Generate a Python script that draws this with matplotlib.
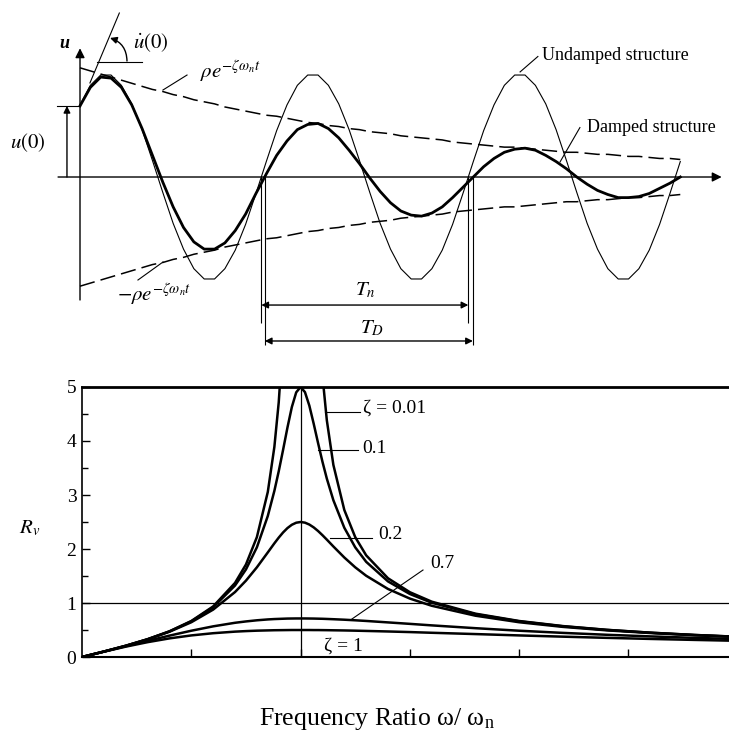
import matplotlib.pyplot as plt
import numpy as np
from matplotlib.ticker import MultipleLocator

plt.rcParams['font.family'] = 'Liberation Serif'
plt.rcParams['mathtext.fontset'] = 'stix'

# Free vibration: time in natural periods, displacement scaled to undamped amplitude
t = np.linspace(0, 2.9, 59)
u_undamped = [0.70, 0.89, 0.99, 0.99, 0.89, 0.71, 0.46, 0.16, -0.15, -0.45,
              -0.70, -0.89, -0.99, -0.99, -0.89, -0.71, -0.46, -0.16, 0.15, 0.45,
              0.70, 0.89, 0.99, 0.99, 0.89, 0.71, 0.46, 0.16, -0.15, -0.45,
              -0.70, -0.89, -0.99, -0.99, -0.89, -0.71, -0.46, -0.16, 0.15, 0.45,
              0.70, 0.89, 0.99, 0.99, 0.89, 0.71, 0.46, 0.16, -0.15, -0.45,
              -0.70, -0.89, -0.99, -0.99, -0.89, -0.71, -0.46, -0.16, 0.15]
u_damped = [0.69, 0.87, 0.97, 0.96, 0.87, 0.70, 0.47, 0.21, -0.05, -0.29,
            -0.49, -0.63, -0.70, -0.70, -0.64, -0.52, -0.36, -0.16, 0.03, 0.21,
            0.35, 0.46, 0.51, 0.52, 0.47, 0.38, 0.26, 0.13, -0.01, -0.14,
            -0.25, -0.33, -0.37, -0.38, -0.35, -0.29, -0.20, -0.10, 0.00, 0.10,
            0.18, 0.24, 0.27, 0.28, 0.26, 0.21, 0.15, 0.08, 0.00, -0.07,
            -0.13, -0.17, -0.20, -0.20, -0.19, -0.16, -0.11, -0.06, 0.00]
envelope = [1.06, 1.03, 1.00, 0.97, 0.94, 0.91, 0.88, 0.85, 0.83, 0.80,
            0.78, 0.75, 0.73, 0.71, 0.68, 0.66, 0.64, 0.62, 0.60, 0.59,
            0.57, 0.55, 0.53, 0.52, 0.50, 0.49, 0.47, 0.46, 0.44, 0.43,
            0.42, 0.40, 0.39, 0.38, 0.37, 0.36, 0.34, 0.33, 0.32, 0.31,
            0.30, 0.29, 0.29, 0.28, 0.27, 0.26, 0.25, 0.24, 0.24, 0.23,
            0.22, 0.22, 0.21, 0.20, 0.20, 0.19, 0.18, 0.18, 0.17]
u0 = 0.69
Tn_start, Tn_end = 0.876, 1.876
TD_start, TD_end = 0.893, 1.898

# Dynamic response factor R_v against frequency ratio
ratio = [0, 0.1, 0.2, 0.3, 0.4, 0.5, 0.6, 0.7, 0.75, 0.8, 0.85, 0.88, 0.9, 0.92,
         0.94, 0.96, 0.98, 1.0, 1.02, 1.04, 1.06, 1.08, 1.1, 1.12, 1.15, 1.2,
         1.25, 1.3, 1.4, 1.5, 1.6, 1.8, 2.0, 2.2, 2.4, 2.6, 2.8, 3.0]
rv_001 = [0, 0.101, 0.208, 0.330, 0.476, 0.667, 0.937, 1.372, 1.713, 2.220, 3.057,
          3.889, 4.716, 5.947, 7.972, 11.89, 22.18, 50.0, 22.54, 12.35, 8.453, 6.436,
          5.210, 4.385, 3.557, 2.723, 2.220, 1.883, 1.458, 1.200, 1.025, 0.803,
          0.667, 0.573, 0.504, 0.451, 0.409, 0.375]
rv_01 = [0, 0.101, 0.208, 0.329, 0.474, 0.661, 0.921, 1.324, 1.622, 2.031, 2.612,
         3.076, 3.439, 3.838, 4.251, 4.629, 4.901, 5.0, 4.905, 4.655, 4.319, 3.961,
         3.617, 3.304, 2.903, 2.394, 2.031, 1.763, 1.400, 1.167, 1.005, 0.793,
         0.661, 0.569, 0.502, 0.450, 0.408, 0.374]
rv_02 = [0, 0.101, 0.208, 0.327, 0.468, 0.644, 0.878, 1.203, 1.414, 1.661, 1.937,
         2.105, 2.211, 2.307, 2.388, 2.449, 2.487, 2.5, 2.488, 2.453, 2.400, 2.333,
         2.256, 2.174, 2.047, 1.843, 1.661, 1.505, 1.260, 1.082, 0.949, 0.765,
         0.644, 0.558, 0.494, 0.444, 0.404, 0.371]
rv_07 = [0, 0.100, 0.200, 0.299, 0.396, 0.487, 0.568, 0.634, 0.659, 0.680, 0.696,
         0.703, 0.706, 0.709, 0.712, 0.713, 0.714, 0.714, 0.714, 0.713, 0.712, 0.710,
         0.708, 0.705, 0.700, 0.691, 0.680, 0.668, 0.641, 0.614, 0.586, 0.534,
         0.487, 0.447, 0.412, 0.382, 0.355, 0.332]
rv_1 = [0, 0.099, 0.192, 0.275, 0.345, 0.400, 0.441, 0.470, 0.480, 0.488, 0.493,
        0.496, 0.497, 0.498, 0.499, 0.500, 0.500, 0.5, 0.500, 0.500, 0.499, 0.499,
        0.498, 0.497, 0.495, 0.492, 0.488, 0.483, 0.473, 0.462, 0.449, 0.425,
        0.400, 0.377, 0.355, 0.335, 0.317, 0.300]

fig = plt.figure(figsize=(7.29, 7.31), dpi=100)

# ---- top: free vibration sketch ----
ax1 = fig.add_axes([0, 0.5075, 1, 0.4925])
ax1.set_xlim(-0.3865, 3.1353)
ax1.set_ylim(-1.7767, 1.7184)
ax1.axis('off')

thin = dict(color='k', lw=0.8)
head = dict(color='k', lw=1.0, shrinkA=0, shrinkB=0)

ax1.annotate('', xy=(3.10, 0), xytext=(-0.106, 0),
             arrowprops=dict(arrowstyle='-|>', mutation_scale=14, **head))
ax1.annotate('', xy=(0, 1.25), xytext=(0, -1.194),
             arrowprops=dict(arrowstyle='-|>', mutation_scale=14, **head))

ax1.plot(t, u_undamped, color='k', lw=0.8)
ax1.plot(t, u_damped, color='k', lw=2.0)
ax1.plot(t, envelope, color='k', lw=1.1, linestyle=(0, (10, 4)))
ax1.plot(t, [-e for e in envelope], color='k', lw=1.1, linestyle=(0, (10, 4)))

# u(0) dimension
ax1.annotate('', xy=(-0.063, u0), xytext=(-0.063, 0),
             arrowprops=dict(arrowstyle='-|>', mutation_scale=10, **head))
ax1.plot([-0.111, 0], [u0, u0], **thin)
ax1.text(-0.251, 0.33, '$u(0)$', fontsize=15, ha='center', va='center')
ax1.text(-0.075, 1.30, 'u', fontsize=13, fontstyle='italic', fontweight='bold',
         ha='center', va='center')

# initial velocity (slope)
ax1.plot([0.048, 0.19], [0.913, 1.592], **thin)
ax1.plot([0.082, 0.300], [1.117, 1.117], **thin)
ax1.annotate('', xy=(0.145, 1.35), xytext=(0.227, 1.126),
             arrowprops=dict(arrowstyle='-|>', mutation_scale=10,
                             connectionstyle='arc3,rad=0.35', **head))
ax1.text(0.256, 1.30, r'$\dot{u}(0)$', fontsize=15, ha='left', va='center')

# envelope labels
ax1.text(0.58, 1.02, r'$\rho e^{-\zeta\omega_n t}$', fontsize=15, ha='left', va='center')
ax1.plot([0.401, 0.517], [0.845, 0.99], **thin)
ax1.text(0.18, -1.145, r'$-\rho e^{-\zeta\omega_n t}$', fontsize=15, ha='left', va='center')
ax1.plot([0.280, 0.401], [-1.0, -0.825], **thin)

ax1.text(2.232, 1.184, 'Undamped structure', fontsize=13, ha='left', va='center')
ax1.plot([2.126, 2.212], [1.02, 1.17], **thin)
ax1.text(2.449, 0.476, 'Damped structure', fontsize=13, ha='left', va='center')
ax1.plot([2.319, 2.415], [0.146, 0.48], **thin)

# periods
ax1.vlines([Tn_start, Tn_end], -1.417, 0, **thin)
ax1.vlines([TD_start, TD_end], -1.631, 0, **thin)
ax1.annotate('', xy=(Tn_end, -1.243), xytext=(Tn_start, -1.243),
             arrowprops=dict(arrowstyle='<|-|>', mutation_scale=10, **head))
ax1.annotate('', xy=(TD_end, -1.592), xytext=(TD_start, -1.592),
             arrowprops=dict(arrowstyle='<|-|>', mutation_scale=10, **head))
ax1.text(1.377, -1.097, '$T_n$', fontsize=15, ha='center', va='center')
ax1.text(1.41, -1.466, '$T_D$', fontsize=15, ha='center', va='center')

# ---- bottom: response factor ----
ax2 = fig.add_axes([0.1125, 0.1012, 0.8875, 0.3694])
for vals in [rv_001, rv_01, rv_02, rv_07, rv_1]:
    ax2.plot(ratio, vals, color='k', lw=1.8)
ax2.axhline(1, color='k', lw=0.9)
ax2.axvline(1, color='k', lw=0.9)
ax2.set_xlim(0, 2.96)
ax2.set_ylim(0, 5)

ax2.spines['right'].set_visible(False)
ax2.spines['top'].set_linewidth(2.0)
ax2.spines['left'].set_linewidth(1.2)
ax2.spines['bottom'].set_linewidth(1.5)

ax2.set_yticks([0, 1, 2, 3, 4, 5])
ax2.yaxis.set_minor_locator(MultipleLocator(0.5))
ax2.set_xticks([0.5, 1.0, 1.5, 2.0, 2.5])
ax2.tick_params(axis='both', which='major', direction='in', length=6, width=1,
                labelsize=14, pad=4, labelbottom=False)
ax2.tick_params(axis='y', which='minor', direction='in', length=4, width=1)

# curve labels
ax2.plot([1.112, 1.272], [4.537, 4.537], **thin)
ax2.text(1.285, 4.61, 'ζ = 0.01', fontsize=14, ha='left', va='center')
ax2.plot([1.080, 1.263], [3.833, 3.833], **thin)
ax2.text(1.281, 3.87, '0.1', fontsize=14, ha='left', va='center')
ax2.plot([1.134, 1.327], [2.204, 2.204], **thin)
ax2.text(1.354, 2.26, '0.2', fontsize=14, ha='left', va='center')
ax2.plot([1.235, 1.560], [0.704, 1.611], **thin)
ax2.text(1.592, 1.74, '0.7', fontsize=14, ha='left', va='center')
ax2.text(1.105, 0.21, 'ζ = 1', fontsize=14, ha='left', va='center')

fig.text(30 / 729, 1 - 528 / 731, '$R_v$', fontsize=15, ha='center', va='center')
fig.text(377 / 729, 0.008, r'Frequency Ratio ω/ ω$_\mathregular{n}$', fontsize=18.5,
         ha='center', va='baseline')

plt.savefig('out.png', dpi=100)
